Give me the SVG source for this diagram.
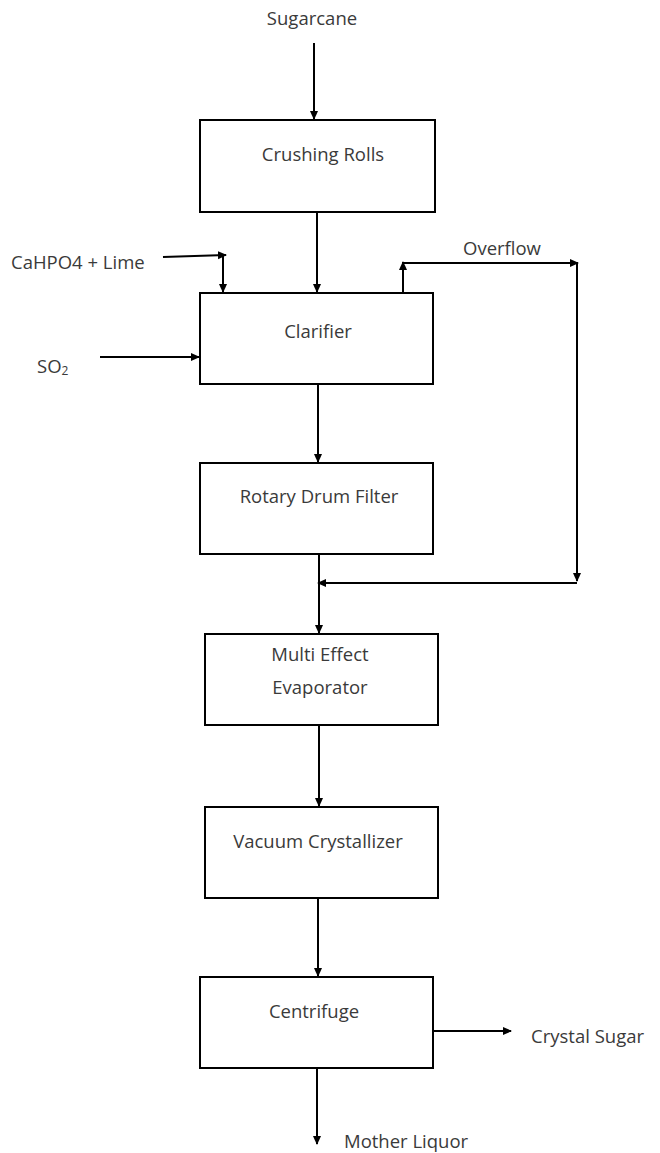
<svg xmlns="http://www.w3.org/2000/svg" width="660" height="1153" viewBox="0 0 660 1153">
<style>
.box{fill:#fff;stroke:#000;stroke-width:2}
.ln{fill:none;stroke:#000;stroke-width:2}
.t{font-family:"Open Sans","Liberation Sans",Arial,sans-serif;font-size:18.5px;fill:#3a3a3a}
.c{text-anchor:middle}
</style>
<defs>
<marker id="ah" markerWidth="10" markerHeight="10" refX="8" refY="5" orient="auto" markerUnits="userSpaceOnUse">
<path d="M0,1 L9,5 L0,9 Z" fill="#000"/>
</marker>
</defs>
<rect width="660" height="1153" fill="#fff"/>
<g id="connectors">
<path class="ln" d="M314,43 V119" marker-end="url(#ah)"/>
<path class="ln" d="M317,212 V292" marker-end="url(#ah)"/>
<path class="ln" d="M163,257 L226,255" marker-end="url(#ah)"/>
<path class="ln" d="M223,255 V292" marker-end="url(#ah)"/>
<path class="ln" d="M100,357 H199" marker-end="url(#ah)"/>
<path class="ln" d="M403,293 V262" marker-end="url(#ah)"/>
<path class="ln" d="M403,263 H578" marker-end="url(#ah)"/>
<path class="ln" d="M577,263 V581" marker-end="url(#ah)"/>
<path class="ln" d="M577,583 H318" marker-end="url(#ah)"/>
<path class="ln" d="M318,384 V462" marker-end="url(#ah)"/>
<path class="ln" d="M319,554 V633" marker-end="url(#ah)"/>
<path class="ln" d="M319,725 V806" marker-end="url(#ah)"/>
<path class="ln" d="M318,898 V976" marker-end="url(#ah)"/>
<path class="ln" d="M433,1031 H511" marker-end="url(#ah)"/>
<path class="ln" d="M317,1068 V1144" marker-end="url(#ah)"/>
</g>
<g id="labels">
<text class="t c" x="312" y="25">Sugarcane</text>
<text class="t" x="11" y="269">CaHPO4 + Lime</text>
<text class="t" x="37" y="373">SO<tspan font-size="12" dy="2">2</tspan></text>
<text class="t" x="463" y="255">Overflow</text>
<text class="t" x="531" y="1043">Crystal Sugar</text>
<text class="t" x="344" y="1148">Mother Liquor</text>
</g>
<g id="crushing">
<rect class="box" x="200" y="120" width="235" height="92"/>
<text class="t c" x="323" y="161">Crushing Rolls</text>
</g>
<g id="clarifier">
<rect class="box" x="200" y="293" width="233" height="91"/>
<text class="t c" x="318" y="338">Clarifier</text>
</g>
<g id="rotary">
<rect class="box" x="200" y="463" width="233" height="91"/>
<text class="t c" x="319" y="503">Rotary Drum Filter</text>
</g>
<g id="evaporator">
<rect class="box" x="205" y="634" width="233" height="91"/>
<text class="t c" x="320" y="661">Multi Effect</text>
<text class="t c" x="320" y="694">Evaporator</text>
</g>
<g id="crystallizer">
<rect class="box" x="205" y="807" width="233" height="91"/>
<text class="t c" x="318" y="848">Vacuum Crystallizer</text>
</g>
<g id="centrifuge">
<rect class="box" x="200" y="977" width="233" height="91"/>
<text class="t c" x="314" y="1018">Centrifuge</text>
</g>
</svg>
